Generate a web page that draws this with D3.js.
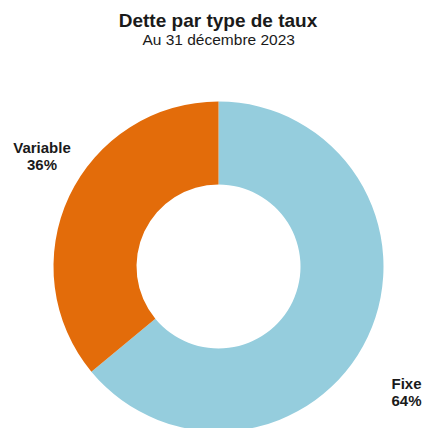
<!DOCTYPE html>
<html lang="fr">
<head>
<meta charset="UTF-8" />
<style>
  body { margin: 0; background: #fff; }
  text { font-family: "Liberation Sans", Arial, sans-serif; fill: #1a1a1a; }
</style>
</head>
<body>
<svg width="430" height="428"></svg>
<script src="https://d3js.org/d3.v7.min.js"></script>
<script>
var categories = ["Fixe", "Variable"];
var values = [64, 36];
var colors = ["#95cddd", "#e36c0a"];
var labelPos = [[406.5, 388.5], [42, 152.5]];

var svg = d3.select("svg"),
    width = +svg.attr("width"),
    height = +svg.attr("height");

svg.append("text")
    .attr("x", 218).attr("y", 26.7)
    .attr("text-anchor", "middle")
    .style("font-weight", "bold")
    .style("font-size", "19px")
    .text("Dette par type de taux");

svg.append("text")
    .attr("x", 218.7).attr("y", 45)
    .attr("text-anchor", "middle")
    .style("font-size", "15.5px")
    .text("Au 31 d\u00e9cembre 2023");

var cx = 218.5, cy = 266.5, outerR = 165, innerR = 82;

var pie = d3.pie().sort(null).value(function (d) { return d; });
var arc = d3.arc().innerRadius(innerR).outerRadius(outerR);

var g = svg.append("g").attr("transform", "translate(" + cx + "," + cy + ")");

g.selectAll("path")
    .data(pie(values))
    .enter().append("path")
    .attr("d", arc)
    .attr("fill", function (d, i) { return colors[i]; });

var lab = svg.selectAll(".lab")
    .data(categories)
    .enter().append("text")
    .attr("class", "lab")
    .attr("text-anchor", "middle")
    .style("font-weight", "bold")
    .style("font-size", "15px")
    .attr("transform", function (d, i) { return "translate(" + labelPos[i][0] + "," + labelPos[i][1] + ")"; });

lab.append("tspan").attr("x", 0).attr("y", 0).text(function (d) { return d; });
lab.append("tspan").attr("x", 0).attr("y", 17.5).text(function (d, i) { return values[i] + "%"; });
</script>
</body>
</html>
